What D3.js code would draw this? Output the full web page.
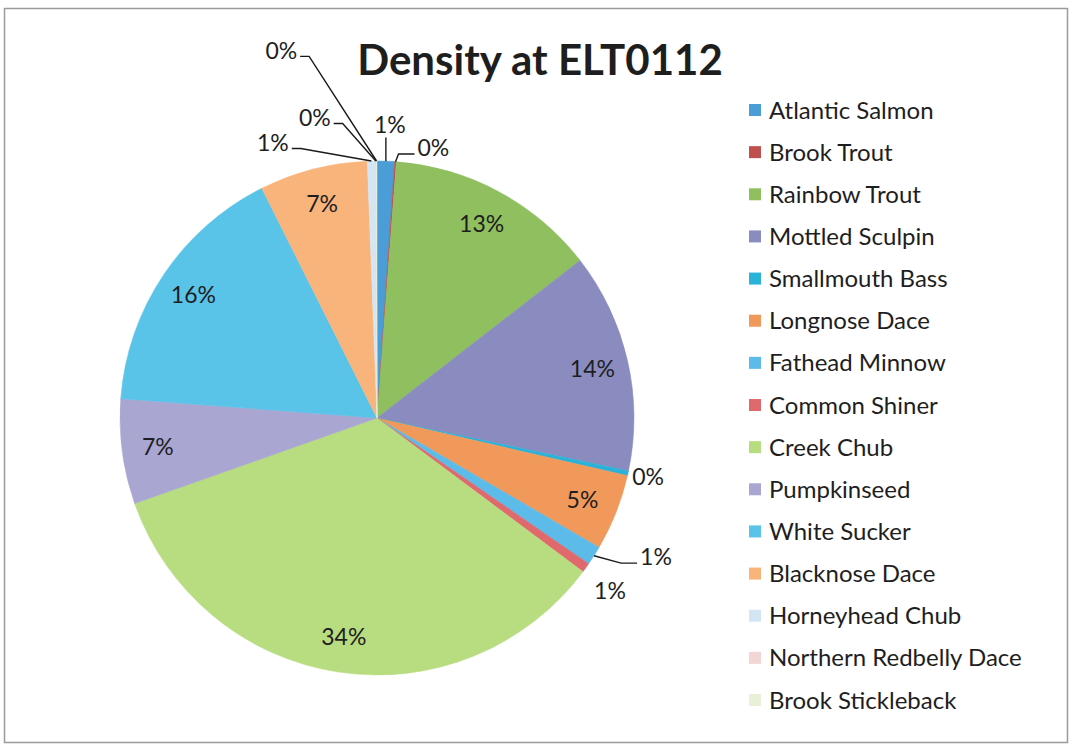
<!DOCTYPE html>
<html>
<head>
<meta charset="utf-8">
<script src="https://cdn.jsdelivr.net/npm/d3@7"></script>
<style>
  html, body { margin: 0; padding: 0; background: #fff; }
  svg { display: block; }
  text { font-family: Lato, "Open Sans", "DejaVu Sans", sans-serif; fill: #1e1e1e; }
</style>
</head>
<body>
<svg id="chart" width="1073" height="747"></svg>
<script>
// Fish species recorded at station ELT0112 (share of total density, %)
const species = [
  "Atlantic Salmon", "Brook Trout", "Rainbow Trout", "Mottled Sculpin",
  "Smallmouth Bass", "Longnose Dace", "Fathead Minnow", "Common Shiner",
  "Creek Chub", "Pumpkinseed", "White Sucker", "Blacknose Dace",
  "Horneyhead Chub", "Northern Redbelly Dace", "Brook Stickleback"
];
const densityShare = [
  1.1, 0.1, 13.3, 13.8,
  0.3, 4.8, 1.2, 0.6,
  34.4, 6.6, 16.4, 6.8,
  0.5, 0.05, 0.05
];
const sliceColors = [
  "#4a9dd6", "#c0504d", "#8fbf5f", "#8a8cc0",
  "#2ab2d9", "#f0995a", "#5cbbe8", "#e0696d",
  "#b8dc80", "#a9a6d2", "#5ac3e8", "#f9b47c",
  "#d4e6f4", "#f2d6d6", "#e9f0d8"
];
const chartTitle = "Density at ELT0112";

// Labels of the thin slices sit outside the pie; polar placement (degrees
// clockwise from 12 o'clock, multiple of the radius) and leader style.
const outsideLabels = {
  "Atlantic Salmon":        { angle: 2.5,   dist: 1.143, leader: "above" },
  "Brook Trout":            { angle: 11.8,  dist: 1.073, leader: "right" },
  "Smallmouth Bass":        { angle: 102.2, dist: 1.079, leader: null },
  "Fathead Minnow":         { angle: 116.5, dist: 1.213, leader: "right" },
  "Common Shiner":          { angle: 126.6, dist: 1.129, leader: null },
  "Horneyhead Chub":        { angle: 339.3, dist: 1.146, leader: "left" },
  "Northern Redbelly Dace": { angle: 348.3, dist: 1.194, leader: "left" },
  "Brook Stickleback":      { angle: 345.4, dist: 1.478, leader: "left" }
};

const svg = d3.select("#chart");

// frame
svg.append("rect")
  .attr("x", 4.5).attr("y", 8.5)
  .attr("width", 1063).attr("height", 734)
  .attr("fill", "#fff")
  .attr("stroke", "#9a9a9a").attr("stroke-width", 1.5);

// title
svg.append("text")
  .attr("x", 540).attr("y", 75)
  .attr("text-anchor", "middle")
  .style("font-weight", "bold")
  .style("font-size", "42px")
  .text(chartTitle);

const cx = 377, cy = 418, radius = 257;
const rows = species.map((s, i) => ({ name: s, value: densityShare[i], color: sliceColors[i] }));
const total = d3.sum(densityShare);

const pie = d3.pie().sort(null).value(d => d.value).startAngle(0).endAngle(2 * Math.PI);
const arcs = pie(rows);
const arc = d3.arc().innerRadius(0).outerRadius(radius);

const g = svg.append("g").attr("transform", `translate(${cx},${cy})`);

g.selectAll("path.slice")
  .data(arcs)
  .join("path")
  .attr("class", "slice")
  .attr("d", arc)
  .attr("fill", d => d.data.color)
  .attr("stroke", d => d.data.color)
  .attr("stroke-width", 0.5);

const pctText = d => Math.round(d.data.value / total * 100) + "%";
const polar = (angleRad, r) => [r * Math.sin(angleRad), -r * Math.cos(angleRad)];
const labelSize = "23px";

// labels inside the larger slices
const insideArc = d3.arc().innerRadius(radius * 0.86).outerRadius(radius * 0.86);
g.selectAll("text.inside")
  .data(arcs.filter(d => !outsideLabels[d.data.name]))
  .join("text")
  .attr("class", "inside")
  .attr("transform", d => `translate(${insideArc.centroid(d)})`)
  .attr("text-anchor", "middle")
  .attr("dy", "0.36em")
  .style("font-size", labelSize)
  .text(pctText);

// labels outside the thin slices, with leader lines
arcs.filter(d => outsideLabels[d.data.name]).forEach(d => {
  const cfg = outsideLabels[d.data.name];
  const [lx, ly] = polar(cfg.angle * Math.PI / 180, cfg.dist * radius);
  const t = g.append("text")
    .attr("x", lx).attr("y", ly)
    .attr("text-anchor", "middle")
    .attr("dy", "0.36em")
    .style("font-size", labelSize)
    .text(pctText(d));
  if (!cfg.leader) return;
  const w = t.node().getComputedTextLength();
  const mid = (d.startAngle + d.endAngle) / 2;
  const edge = polar(mid, radius);
  let pts;
  if (cfg.leader === "above") {
    pts = [edge, [edge[0], ly + 13]];
  } else if (cfg.leader === "right") {
    const x1 = lx - w / 2 - 3;
    pts = [edge, [x1 - 16, ly + 6], [x1, ly + 6]];
  } else {
    const x1 = lx + w / 2 + 3;
    pts = [edge, [x1 + 9, ly + 6], [x1, ly + 6]];
  }
  g.append("path")
    .attr("d", d3.line()(pts))
    .attr("fill", "none")
    .attr("stroke", "#1a1a1a")
    .attr("stroke-width", 1.4);
});

// legend
const legendY = d3.scalePoint().domain(species).range([110, 700]);
const legend = svg.append("g").selectAll("g")
  .data(rows)
  .join("g")
  .attr("transform", d => `translate(749,${legendY(d.name)})`);
legend.append("rect")
  .attr("x", 0).attr("y", -6)
  .attr("width", 12).attr("height", 12)
  .attr("fill", d => d.color);
legend.append("text")
  .attr("x", 20).attr("dy", "0.36em")
  .style("font-size", "24px")
  .text(d => d.name);
</script>
</body>
</html>
